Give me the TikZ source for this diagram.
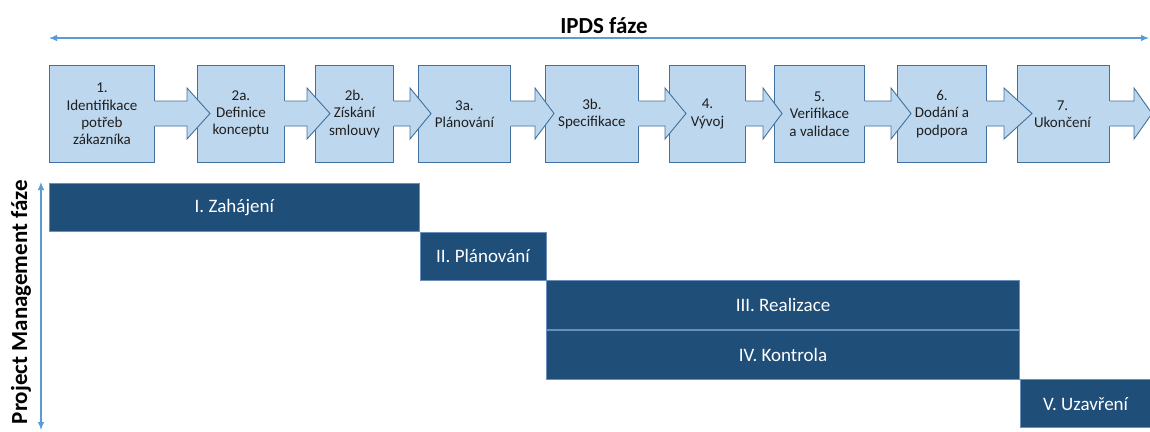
\documentclass[tikz,border=0pt]{standalone}
\usepackage{fontspec}
\setmainfont{Carlito}
\usetikzlibrary{arrows.meta,calc}
\definecolor{boxfill}{HTML}{BDD7EE}
\definecolor{boxline}{HTML}{41719C}
\definecolor{barfill}{HTML}{1F4E79}
\definecolor{barline}{HTML}{6A8FBF}
\definecolor{axiscol}{HTML}{5B9BD5}
\newcommand\procarrow[3]{%
  \fill[boxfill] ($(#1.east |- sT)+(-1.5,0)$) -- (#2,101) -- (#2,88) -- (#3,113.5) -- (#2,139) -- (#2,126) -- ($(#1.east |- sB)+(-1.5,0)$) -- cycle;
  \draw[boxline, line width=0.9pt, line join=miter] (#1.east |- sT) -- (#2,101) -- (#2,88) -- (#3,113.5) -- (#2,139) -- (#2,126) -- (#1.east |- sB);
}
\begin{document}
\begin{tikzpicture}[x=1pt,y=-1pt,
  box/.style={draw=boxline, fill=boxfill, line width=0.9pt, minimum height=97pt, anchor=north west, inner sep=0pt},
  lbl/.style={font=\fontsize{15}{17.3}\selectfont, align=center, text=black!88, inner sep=0pt},
  bar/.style={draw=barline, fill=barfill, line width=0.6pt, minimum height=48pt, anchor=north west, text=white, font=\fontsize{19}{22}\selectfont, inner sep=0pt},
  axisarrow/.style={draw=axiscol, line width=1.1pt, {Latex[length=8pt,width=6.5pt]}-{Latex[length=8pt,width=6.5pt]}},
  ttl/.style={font=\fontsize{23}{26}\selectfont\bfseries, inner sep=0pt}
  ]
\useasboundingbox (0,0) rectangle (1150,431);
\coordinate (sT) at (0,101);
\coordinate (sB) at (0,126);

% title and axis
\coordinate (tl) at (49,38);
\coordinate (tr) at (1149,38);
\draw[axisarrow] (tl) -- (tr);
\node[ttl, anchor=base] (title) at (604,33) {IPDS fáze};

% process boxes
\node[box, minimum width=105pt] (b1) at (49,65) {};
\node[box, minimum width=87pt] (b2) at (197,65) {};
\node[box, minimum width=78pt] (b3) at (315,65) {};
\node[box, minimum width=92pt] (b4) at (418,65) {};
\node[box, minimum width=93pt] (b5) at (545,65) {};
\node[box, minimum width=76pt] (b6) at (669,65) {};
\node[box, minimum width=90pt] (b7) at (774,65) {};
\node[box, minimum width=89pt] (b8) at (897,65) {};
\node[box, minimum width=92pt] (b9) at (1017,65) {};

% block arrows
\procarrow{b1}{187}{210}
\procarrow{b2}{307}{330}
\procarrow{b3}{410}{431}
\procarrow{b4}{535}{554}
\procarrow{b5}{665}{686}
\procarrow{b6}{763}{782}
\procarrow{b7}{891}{911}
\procarrow{b8}{1004}{1032}
\procarrow{b9}{1134}{1152}

% labels
\node[lbl] (l1) at (b1.center) {1.\\Identifikace\\potřeb\\zákazníka};
\node[lbl] (l2) at (b2.center) {2a.\\Definice\\konceptu};
\node[lbl] (l3) at (b3.center) {2b.\\Získání\\smlouvy};
\node[lbl] (l4) at (b4.center) {3a.\\Plánování};
\node[lbl] (l5) at (b5.center) {3b.\\Specifikace};
\node[lbl] (l6) at (b6.center) {4.\\Vývoj};
\node[lbl] (l7) at (b7.center) {5.\\Verifikace\\a validace};
\node[lbl] (l8) at (b8.center) {6.\\Dodání a\\podpora};
\node[lbl] (l9) at ([xshift=-1pt]b9.center) {7.\\Ukončení};

% project management axis
\coordinate (pt) at (41,182);
\coordinate (pb) at (41,430);
\draw[axisarrow] (pt) -- (pb);
\node[ttl, rotate=90] (pmtitle) at (21,302) {Project Management fáze};

% project management bars
\node[bar, minimum width=370pt] (p1) at (49,183) {I. Zahájení};
\node[bar, minimum width=126pt] (p2) at (p1.south east) {II. Plánování};
\node[bar, minimum width=473pt, minimum height=49pt] (p3) at (p2.south east) {III. Realizace};
\node[bar, minimum width=473pt, minimum height=49pt] (p4) at (p3.south west) {IV. Kontrola};
\node[bar, minimum width=131pt] (p5) at (p4.south east) {V. Uzavření};
\end{tikzpicture}
\end{document}
